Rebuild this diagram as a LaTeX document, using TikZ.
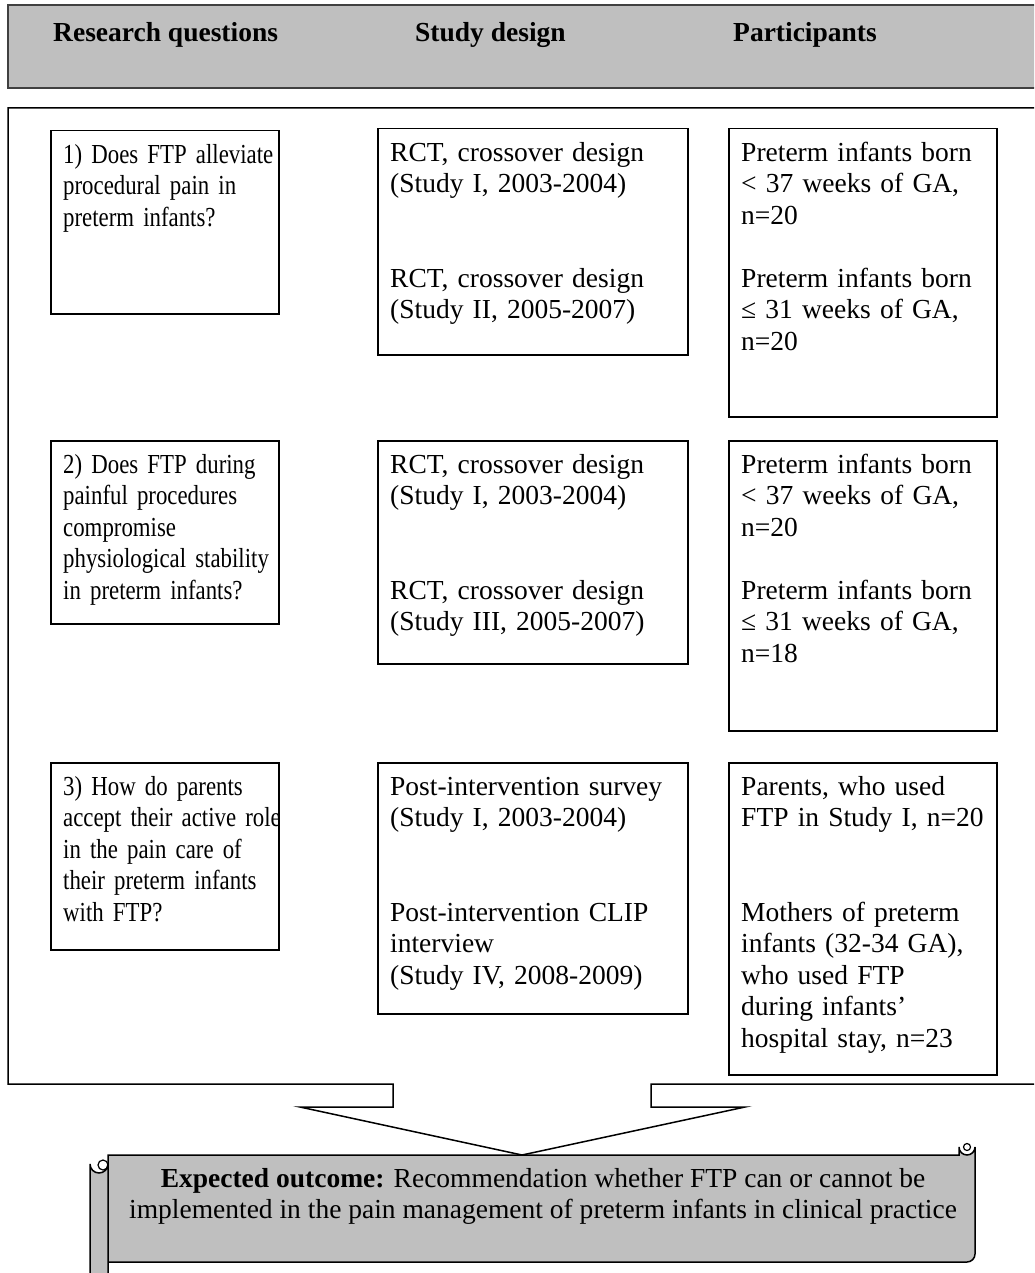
\documentclass[tikz,border=0pt]{standalone}
\usepackage{fontspec}
\setmainfont{Liberation Serif}
\newfontfamily\narrowfont{Liberation Serif}[FakeStretch=0.83]
\usepackage{tikz}
\definecolor{scrollgray}{rgb}{0.75,0.75,0.75}
\definecolor{framegray}{rgb}{0.25,0.25,0.25}
\newcommand{\cellfont}{\fontsize{27.5}{31.5}\selectfont}
\tikzset{
  cellframe/.style={draw,line width=1.5pt,fill=white,anchor=north west,inner sep=0pt},
  celltext/.style={anchor=north west,inner sep=0pt,align=left,text width=280pt},
  headtext/.style={anchor=base west,inner sep=0pt,font={\cellfont\bfseries}},
  frameline/.style={line width=1.5pt,line join=miter},
}
% box with top-aligned text: name, x, y, width, height, text
\newcommand{\cellbox}[6]{
  \node[cellframe,minimum width=#4pt,minimum height=#5pt] (#1) at (#2,#3) {};
  \node[celltext] (#1-text) at ([shift={(13pt,-11pt)}]#1.north west) {\strut #6};
}

\begin{document}
\begin{tikzpicture}[x=1pt,y=-1pt,font=\cellfont]
      \useasboundingbox (0,0) rectangle (1034,1273);
      \clip (0,0) rectangle (1034,1273);

      % header bar
      \draw[line width=2.2pt,draw=framegray,fill=scrollgray] (1045,5) -- (8,5) -- (8,88) -- (1045,88);
      \node[headtext] (hq) at (53,42) {Research questions};
      \node[headtext] (hd) at (415,42) {Study design};
      \node[headtext] (hp) at (733,42) {Participants};

      % outer frame with arrow
      \draw[frameline] (1045,108) -- (8,108) -- (8,1084) -- (393,1084) -- (393,1107)
        -- (300,1107) -- (522,1155) -- (745,1107) -- (651,1107) -- (651,1084) -- (1045,1084);

      % row 1
      \cellbox{q1}{50}{130}{228}{183}{\narrowfont 1) Does FTP alleviate\\procedural pain in\\preterm infants?}
      \cellbox{d1}{377}{128}{310}{226}{RCT, crossover design\\(Study I, 2003-2004)\\[2\baselineskip]RCT, crossover design\\(Study II, 2005-2007)}
      \cellbox{p1}{728}{128}{268}{288}{Preterm infants born\\< 37 weeks of GA,\\n=20\\[\baselineskip]Preterm infants born\\≤ 31 weeks of GA,\\n=20}

      % row 2
      \cellbox{q2}{50}{440}{228}{183}{\narrowfont 2) Does FTP during\\painful procedures\\compromise\\physiological stability\\in preterm infants?}
      \cellbox{d2}{377}{440}{310}{223}{RCT, crossover design\\(Study I, 2003-2004)\\[2\baselineskip]RCT, crossover design\\(Study III, 2005-2007)}
      \cellbox{p2}{728}{440}{268}{290}{Preterm infants born\\< 37 weeks of GA,\\n=20\\[\baselineskip]Preterm infants born\\≤ 31 weeks of GA,\\n=18}

      % row 3
      \cellbox{q3}{50}{762}{228}{187}{\narrowfont 3) How do parents\\accept their active role\\in the pain care of\\their preterm infants\\with FTP?}
      \cellbox{d3}{377}{762}{310}{251}{Post-intervention survey\\(Study I, 2003-2004)\\[2\baselineskip]Post-intervention CLIP\\interview\\(Study IV, 2008-2009)}
      \cellbox{p3}{728}{762}{268}{312}{Parents, who used\\FTP in Study I, n=20\\[2\baselineskip]Mothers of preterm\\infants (32-34 GA),\\who used FTP\\during infants’\\hospital stay, n=23}

      % scroll with expected outcome
      \draw[line width=1.5pt,fill=scrollgray] (108,1155) -- (959,1155) -- (959,1147)
        arc[start angle=180,end angle=0,radius=8] -- (975,1254) arc[start angle=0,end angle=90,radius=8]
        -- (108,1262) -- cycle;
      \draw[line width=1.2pt] (967,1147) circle[radius=3.5];
      \draw[line width=1.5pt,fill=scrollgray] (90,1280) -- (90,1164) arc[start angle=180,end angle=0,radius=9] -- (108,1280);
      \draw[line width=1.2pt] (103,1165) circle[radius=5];
      \node[anchor=north,inner sep=0pt,align=center] (outcome) at (543,1165)
        {\strut\textbf{Expected outcome:} Recommendation whether FTP can or cannot be\\implemented in the pain management of preterm infants in clinical practice};
\end{tikzpicture}
\end{document}
